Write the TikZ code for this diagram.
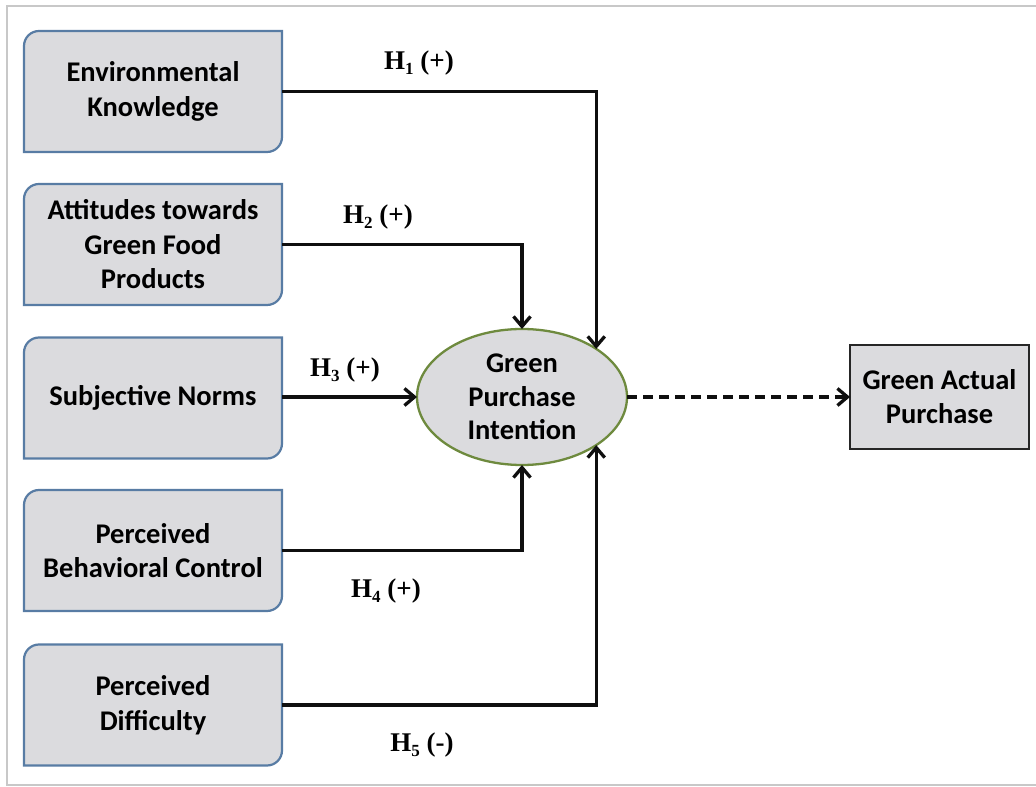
\documentclass[tikz,border=0pt]{standalone}
\usepackage{fontspec}
\setmainfont{Carlito}
\newfontfamily\hfont{Liberation Serif}
\usetikzlibrary{arrows.meta,shapes.geometric}
\definecolor{boxfill}{RGB}{219,219,222}
\definecolor{boxline}{RGB}{88,124,164}
\definecolor{ellline}{RGB}{110,138,62}
\definecolor{framecol}{RGB}{200,200,200}
\definecolor{arrcol}{RGB}{15,15,15}
\tikzset{
  cbox/.style={minimum width=258pt,minimum height=121pt,inner sep=0pt,outer sep=0pt,
    align=center,font=\fontsize{28.5}{34.5}\selectfont\bfseries},
  rbox/.style={fill=boxfill,draw=boxline,line width=2.2pt},
  conn/.style={draw=arrcol,line width=3.3pt,-{Straight Barb[length=10pt,width=17pt]}},
  dconn/.style={conn,dash pattern=on 10pt off 6pt},
  hlab/.style={font=\hfont\fontsize{27}{30}\selectfont\bfseries,inner sep=0pt}
}
\newcommand\hsub[1]{\raisebox{-5pt}{\fontsize{17}{17}\selectfont #1}}
\newcommand\roundbox[1]{%
  \path[rbox] (#1.south west) -- ([yshift=-15pt]#1.north west)
    arc[start angle=180,end angle=90,radius=15pt] -- (#1.north east)
    -- ([yshift=15pt]#1.south east)
    arc[start angle=0,end angle=-90,radius=15pt] -- cycle;}
\begin{document}
\begin{tikzpicture}[x=1pt,y=1pt]
\useasboundingbox (0,0) rectangle (1036,787);
\fill[white] (0,0) rectangle (1036,787);
% frame
\draw[framecol,line width=2.5pt] (1045,781) -- (7,781) -- (7,2) -- (1045,2);
% left boxes (text nodes)
\node[cbox] (ek) at (153,695.5) {};
\node[cbox] (at) at (153,542.5) {};
\node[cbox] (sn) at (153,389) {};
\node[cbox] (pbc) at (153,236.5) {};
\node[cbox] (pd) at (153,82) {};
\roundbox{ek}\roundbox{at}\roundbox{sn}\roundbox{pbc}\roundbox{pd}
\node[cbox] at (ek) {Environmental\\Knowledge};
\node[cbox] at (at) {Attitudes towards\\Green Food\\Products};
\node[cbox] at (sn) {Subjective Norms};
\node[cbox] at (pbc) {Perceived\\Behavioral Control};
\node[cbox] at (pd) {Perceived\\Difficulty};
% ellipse
\node[ellipse,minimum width=210pt,minimum height=136pt,inner sep=0pt,outer sep=0pt,
  fill=boxfill,draw=ellline,line width=2.3pt,align=center,
  font=\fontsize{28.5}{33.5}\selectfont\bfseries] (gpi) at (522,390) {Green\\Purchase\\Intention};
% actual purchase
\node[rectangle,minimum width=179pt,minimum height=104pt,inner sep=0pt,outer sep=0pt,
  fill=boxfill,draw=black!85,line width=2.2pt,align=center,
  font=\fontsize{28.5}{34}\selectfont\bfseries] (gap) at (939.5,390) {Green Actual\\Purchase};
% connectors
\draw[conn] (ek.east) -| (gpi.north east);
\draw[conn] (at.east) -| (gpi.north);
\draw[conn] (sn.east |- gpi.west) -- (gpi.west);
\draw[conn] (pbc.east) -| (gpi.south);
\draw[conn] (pd.east) -| (gpi.south east);
\draw[dconn] (gpi.east) -- (gap.west);
% labels
\node[hlab] (h1) at (419,724) {H\hsub{1} (+)};
\node[hlab] (h2) at (378,570) {H\hsub{2} (+)};
\node[hlab] (h3) at (345,417) {H\hsub{3} (+)};
\node[hlab] (h4) at (386,196) {H\hsub{4} (+)};
\node[hlab] (h5) at (422,42) {H\hsub{5} (-)};
\end{tikzpicture}
\end{document}
